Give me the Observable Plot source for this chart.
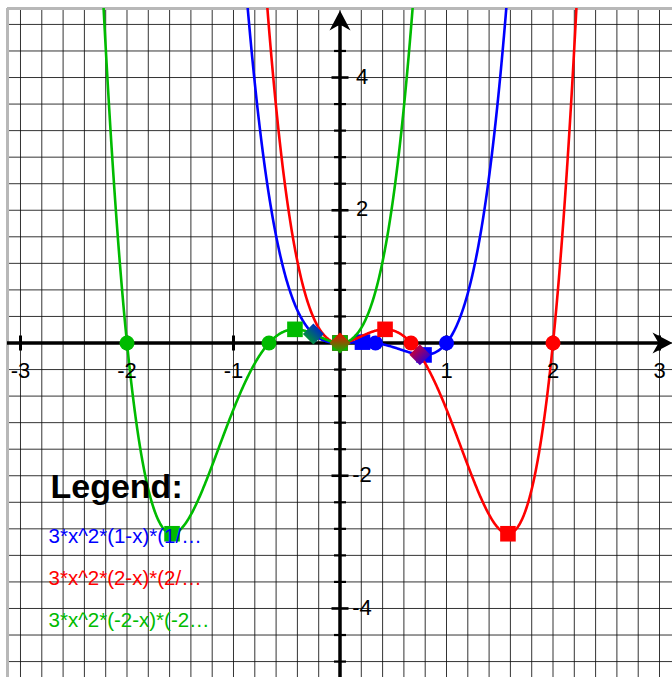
<!DOCTYPE html>
<html>
<head>
<meta charset="utf-8">
<script src="https://cdn.jsdelivr.net/npm/d3@7"></script>
<script src="https://cdn.jsdelivr.net/npm/@observablehq/plot@0.6"></script>
<style>
  html, body { margin: 0; padding: 0; background: #fff; }
  #chart svg { display: block; }
</style>
</head>
<body>
<div id="chart"></div>
<script>
// Three quartics y = 3·x²·(a − x)·(b − x)
const seriesIds = ["blue", "red", "green"];
const seriesColors = ["#0000ff", "#ff0000", "#00bb00"];
const legendLabels = ["3*x^2*(1-x)*(1/…", "3*x^2*(2-x)*(2/…", "3*x^2*(-2-x)*(-2…"];
const rootA = [1, 2, -2];
const rootB = [1 / 3, 2 / 3, -2 / 3];

// Zeros of each curve (circles)
const zeroX = [[0, 1 / 3, 1], [0, 2 / 3, 2], [0, -2 / 3, -2]];
// Turning points of each curve (squares)
const extremaX = [[0, 0.211, 0.789], [0, 0.423, 1.577], [0, -0.423, -1.577]];
const extremaY = [[0, 0.013, -0.180], [0, 0.206, -2.874], [0, 0.206, -2.874]];
// Points where two curves cross (diamonds), with the two colours of each pair
const crossX = [-0.25, 0, 0.75];
const crossY = [0.137, 0, -0.176];
const crossColors = [["#0000ff", "#00bb00"], ["#ff0000", "#00bb00"], ["#ff0000", "#0000ff"]];

// Axis ticks and their labels
const xTickValues = [-3, -2, -1, 1, 2, 3];
const xTickLabels = ["-3", "-2", "-1", "1", "2", "3"];
const yTickValues = [-4, -2, 2, 4];
const yTickLabels = ["-4", "-2", "2", "4"];

const xDomain = [-3.122, 3.122];
const yDomain = [-5.04, 5.04];
const xGrid = d3.range(-15, 16).map(i => i * 0.2);
const yGrid = d3.range(-12, 13).map(i => i * 0.4);
const yMinor = yGrid.filter(v => Math.abs(v) > 1e-9 && !yTickValues.some(t => Math.abs(t - v) < 1e-9));

const f = (a, b) => x => 3 * x * x * (a - x) * (b - x);
const xs = d3.range(-3.2, 3.2001, 0.004);
const curves = seriesIds.map((id, k) => xs.map(x => ({x, y: f(rootA[k], rootB[k])(x)})));

// Hand-drawn shapes for arrowheads, ticks and diamonds
const arrowUp = {draw(c) { c.moveTo(0, 2); c.lineTo(10.5, 22); c.lineTo(0, 16); c.lineTo(-10.5, 22); c.closePath(); }};
const arrowRight = {draw(c) { c.moveTo(0, 0); c.lineTo(-20, -10.5); c.lineTo(-14, 0); c.lineTo(-20, 10.5); c.closePath(); }};
const vTick = {draw(c) { c.moveTo(0, -7.5); c.lineTo(0, 7.5); }};
const hTickMajor = {draw(c) { c.moveTo(-8.5, 0); c.lineTo(8.5, 0); }};
const hTickMinor = {draw(c) { c.moveTo(-6, 0); c.lineTo(6, 0); }};
const diamond = {draw(c) { c.moveTo(0, -10.5); c.lineTo(10.5, 0); c.lineTo(0, 10.5); c.lineTo(-10.5, 0); c.closePath(); }};

const font = "'Liberation Sans', Arial, Helvetica, sans-serif";

const marks = [
  // grid
  Plot.ruleX(xGrid, {stroke: "#111", strokeWidth: 1, strokeOpacity: 0.85}),
  Plot.ruleY(yGrid, {stroke: "#111", strokeWidth: 1, strokeOpacity: 0.85}),
  // frame edges
  Plot.ruleX([xDomain[0]], {stroke: "#b8b8b8", strokeWidth: 3}),
  Plot.ruleY([yDomain[1]], {stroke: "#b8b8b8", strokeWidth: 3}),
  // axes
  Plot.ruleY([0], {x1: xDomain[0], x2: 3.0, stroke: "#000", strokeWidth: 3.5}),
  Plot.ruleX([0], {y1: yDomain[0], y2: 4.8, stroke: "#000", strokeWidth: 3.5}),
  Plot.dot([0], {x: xDomain[1], y: 0, symbol: arrowRight, fill: "#000", stroke: "none"}),
  Plot.dot([0], {x: 0, y: yDomain[1], symbol: arrowUp, fill: "#000", stroke: "none"}),
  Plot.dot(xTickValues, {x: d => d, y: 0, symbol: vTick, fill: "none", stroke: "#000", strokeWidth: 3}),
  Plot.dot(yTickValues, {x: 0, y: d => d, symbol: hTickMajor, fill: "none", stroke: "#000", strokeWidth: 2.6}),
  Plot.dot(yMinor, {x: 0, y: d => d, symbol: hTickMinor, fill: "none", stroke: "#000", strokeWidth: 2.2}),
];

// each curve with its zeros and turning points
seriesIds.forEach((id, k) => {
  marks.push(
    Plot.line(curves[k], {x: "x", y: "y", stroke: seriesColors[k], strokeWidth: 2.6, clip: true}),
    Plot.dot(zeroX[k], {x: d => d, y: 0, r: 7.5, fill: seriesColors[k], stroke: "none"}),
    Plot.dot(extremaX[k], {x: d => d, y: (d, i) => extremaY[k][i], symbol: "square", r: 8.8, fill: seriesColors[k], stroke: "none"})
  );
});

// crossings
crossX.forEach((cx, i) => {
  marks.push(Plot.dot([cx], {x: d => d, y: crossY[i], symbol: diamond, fill: `url(#cross-${i})`, stroke: "none"}));
});

// tick labels
marks.push(
  Plot.text(xTickValues, {x: d => d, y: 0, text: (d, i) => xTickLabels[i], dy: 28, fontSize: 22, fontFamily: font, fill: "#000", lineAnchor: "middle"}),
  Plot.text(yTickValues, {x: 0, y: d => d, text: (d, i) => yTickLabels[i], dx: 22, dy: -1, fontSize: 22, fontFamily: font, fill: "#000", lineAnchor: "middle"})
);

// legend
marks.push(
  Plot.text(["Legend:"], {frameAnchor: "top-left", dx: 43, dy: 478.5, text: d => d, fontSize: 34, fontWeight: "bold", fontFamily: font, fill: "#000", textAnchor: "start", lineAnchor: "middle", letterSpacing: "0.5px"})
);
legendLabels.forEach((label, k) => {
  marks.push(Plot.text([label], {frameAnchor: "top-left", dx: 41, dy: 528 + 42 * k, text: d => d, fontSize: 20.5, fontFamily: font, fill: seriesColors[k], textAnchor: "start", lineAnchor: "middle", letterSpacing: "0.8px"}));
});

const chart = Plot.plot({
  width: 672,
  height: 677,
  marginLeft: 7,
  marginRight: 0,
  marginTop: 8,
  marginBottom: 0,
  x: {domain: xDomain, axis: null},
  y: {domain: yDomain, axis: null},
  style: {background: "#fff", fontFamily: font},
  marks
});

// gradient fills for the crossing diamonds
const gradientVectors = [[1, 0, 0, 1], [0, 0, 0, 1], [0, 0, 1, 1]];
const defs = d3.select(chart).insert("defs", ":first-child");
crossColors.forEach(([c0, c1], i) => {
  const [x1, y1, x2, y2] = gradientVectors[i];
  const g = defs.append("linearGradient").attr("id", `cross-${i}`)
    .attr("x1", x1).attr("y1", y1).attr("x2", x2).attr("y2", y2);
  g.append("stop").attr("offset", "0%").attr("stop-color", c0);
  g.append("stop").attr("offset", "100%").attr("stop-color", c1);
});

document.getElementById("chart").appendChild(chart);
</script>
</body>
</html>
